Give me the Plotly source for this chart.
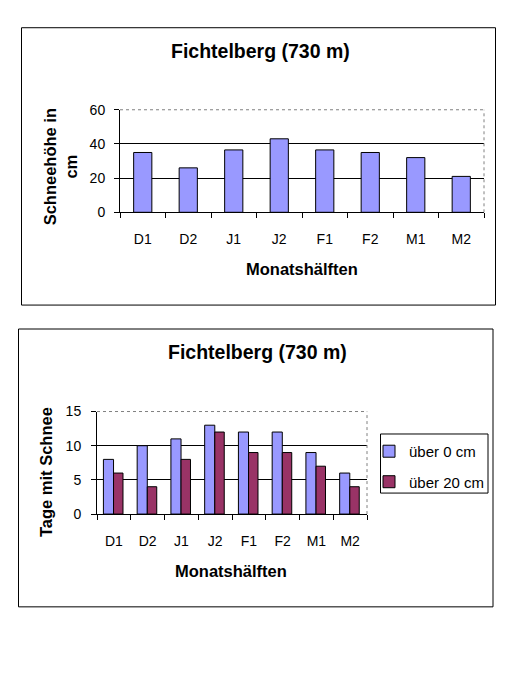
import plotly.graph_objects as go

# page has an 8px body margin, so the figure is 16px smaller than the window
OFF = 8
W, H = 510 - 2 * OFF, 700 - 2 * OFF

# ---------------- data ----------------
categories = ["D1", "D2", "J1", "J2", "F1", "F2", "M1", "M2"]
snow_depth_cm = [35, 26, 36.5, 43, 36.5, 35, 32, 21]
days_over_0cm = [8, 10, 11, 13, 12, 12, 9, 6]
days_over_20cm = [6, 4, 8, 12, 9, 9, 7, 4]

chart_title = "Fichtelberg (730 m)"
x_title = "Monatshälften"
y_title_1 = "Schneehöhe in<br>cm"
y_title_2 = "Tage mit Schnee"
legend_names = ["über 0 cm", "über 20 cm"]

BLUE = "#9999FF"
RED = "#993366"
FONT = "Liberation Sans, Arial, sans-serif"


def px(x):
    return (x - OFF) / W


def py(y):
    return 1 - (y - OFF) / H


fig = go.Figure()

fig.add_trace(go.Bar(
    x=categories, y=snow_depth_cm, xaxis="x", yaxis="y",
    width=0.4, marker=dict(color=BLUE, line=dict(color="black", width=1)),
    showlegend=False, hoverinfo="x+y"))

fig.add_trace(go.Bar(
    x=categories, y=days_over_0cm, xaxis="x2", yaxis="y2",
    name=legend_names[0], legendgroup="a",
    width=0.3, offset=-0.31,
    marker=dict(color=BLUE, line=dict(color="black", width=1))))

fig.add_trace(go.Bar(
    x=categories, y=days_over_20cm, xaxis="x2", yaxis="y2",
    name=legend_names[1], legendgroup="b",
    width=0.28, offset=-0.01,
    marker=dict(color=RED, line=dict(color="black", width=1))))

axis_common = dict(showline=True, linecolor="black", linewidth=1,
                   ticks="outside", ticklen=5, tickcolor="black", tickwidth=1,
                   tickfont=dict(family=FONT, size=14, color="black"))

fig.update_layout(
    width=W, height=H, margin=dict(l=0, r=0, t=0, b=0),
    paper_bgcolor="white", plot_bgcolor="white",
    barmode="overlay",
    font=dict(family=FONT, color="black"),
    xaxis=dict(domain=[px(120), px(484)], anchor="y", type="category",
               tickson="boundaries", showgrid=False, ticklabelstandoff=14,
               **axis_common),
    yaxis=dict(domain=[py(209), py(104)], anchor="x", range=[0, 60], dtick=20,
               showgrid=True, gridcolor="black", gridwidth=1, zeroline=False,
               ticklabelstandoff=6, **axis_common),
    xaxis2=dict(domain=[px(97), px(367)], anchor="y2", type="category",
                tickson="boundaries", showgrid=False, ticklabelstandoff=14,
                **axis_common),
    yaxis2=dict(domain=[py(518), py(413)], anchor="x2", range=[0, 15], dtick=5,
                showgrid=True, gridcolor="black", gridwidth=1, zeroline=False,
                ticklabelstandoff=7, **axis_common),
    legend=dict(x=px(369), y=py(437), xanchor="left", yanchor="top",
                bgcolor="rgba(0,0,0,0)", borderwidth=0,
                font=dict(family=FONT, size=15, color="black"),
                traceorder="grouped", tracegroupgap=8, itemwidth=30),
)

shapes = [
    # outer chart boxes
    dict(type="rect", xref="paper", yref="paper", x0=px(21.5), x1=px(495.5),
         y0=py(304), y1=py(20), line=dict(color="black", width=1)),
    dict(type="rect", xref="paper", yref="paper", x0=px(18.5), x1=px(493),
         y0=py(613), y1=py(328.5), line=dict(color="black", width=1)),
    # legend box
    dict(type="rect", xref="paper", yref="paper", x0=px(380.5), x1=px(488),
         y0=py(496.5), y1=py(436), line=dict(color="black", width=1)),
]
# dotted top/right plot-area borders
for xr, yr in (("x", "y"), ("x2", "y2")):
    shapes.append(dict(type="line", xref=f"{xr} domain", yref=f"{yr} domain",
                       x0=0, x1=1, y0=1, y1=1, line=dict(color="white", width=1.5)))
    shapes.append(dict(type="line", xref=f"{xr} domain", yref=f"{yr} domain",
                       x0=0, x1=1, y0=1, y1=1, line=dict(color="gray", width=1, dash="dot")))
    shapes.append(dict(type="line", xref=f"{xr} domain", yref=f"{yr} domain",
                       x0=1, x1=1, y0=0, y1=1, line=dict(color="gray", width=1, dash="dot")))
fig.update_layout(shapes=shapes)

title_font = dict(family=FONT, size=19.5, color="black")
axt_font = dict(family=FONT, size=16.5, color="black")
ann = [
    dict(text=f"<b>{chart_title}</b>", x=px(260), y=py(44), font=title_font),
    dict(text=f"<b>{chart_title}</b>", x=px(257), y=py(352), font=title_font),
    dict(text=f"<b>{x_title}</b>", x=px(302), y=py(267), font=axt_font),
    dict(text=f"<b>{x_title}</b>", x=px(231), y=py(576), font=axt_font),
    dict(text=f"<b>{y_title_1}</b>", x=px(60), y=py(163), font=axt_font, textangle=-90),
    dict(text=f"<b>{y_title_2}</b>", x=px(46), y=py(475), font=axt_font, textangle=-90),
]
for a in ann:
    a.update(xref="paper", yref="paper", xanchor="center", yanchor="middle",
             showarrow=False)
fig.update_layout(annotations=ann)

fig.write_html("out.html")
